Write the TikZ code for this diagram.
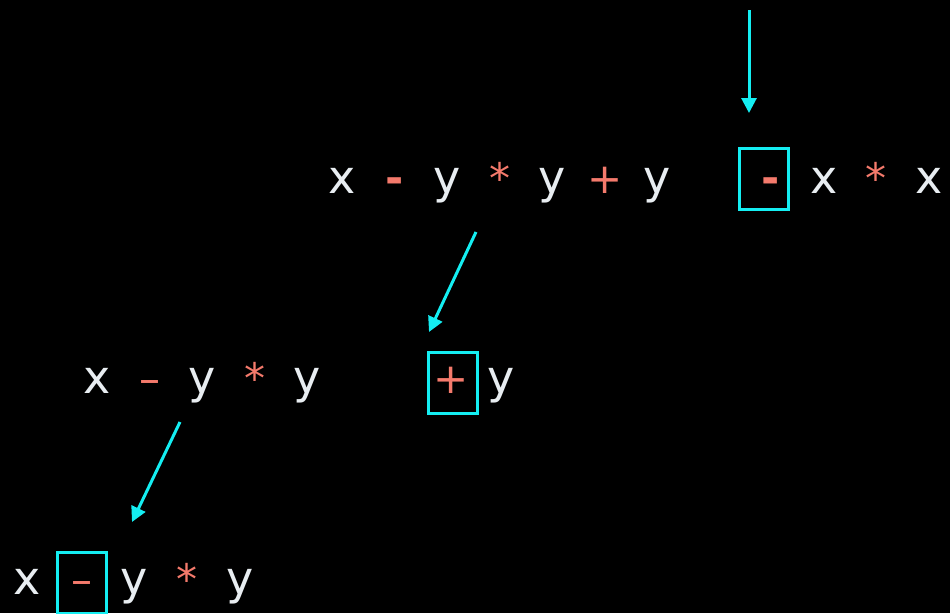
\documentclass[tikz,border=0pt]{standalone}
\usepackage{fontspec}
\setmainfont{DejaVu Sans}
\usetikzlibrary{arrows.meta}
\definecolor{txtw}{HTML}{E8EDF1}
\definecolor{opred}{HTML}{F47A6C}
\definecolor{cyanc}{HTML}{14EEF2}
\tikzset{
  ch/.style={inner sep=0pt, anchor=base, text=txtw, font=\fontsize{46}{50}\selectfont},
  op/.style={inner sep=0pt, anchor=base, text=opred, font=\fontsize{42}{46}\selectfont},
  hy/.style={op, font=\fontsize{44}{48}\selectfont\bfseries},
  hbox/.style={draw=cyanc, line width=3pt},
  arr/.style={draw=cyanc, line width=3pt, -{Triangle[length=15pt,width=15pt]}}
}
\begin{document}
\begin{tikzpicture}[x=1pt,y=-1pt]
\fill[black] (0,0) rectangle (950,613);
\useasboundingbox (0,0) rectangle (950,613);
% top row
\node[ch] (t1) at (342,193) {x};
\node[hy] (t2) at (395,193) {-};
\node[ch] (t3) at (447,193) {y};
\node[op] (t4) at (500,193) {*};
\node[ch] (t5) at (552,193) {y};
\node[op] (t6) at (605,193) {+};
\node[ch] (t7) at (657,193) {y};
\draw[hbox] (739,148) rectangle (788,209);
\node[hy] (t8) at (771,193) {-};
\node[ch] (t9) at (824,193) {x};
\node[op] (t10) at (876,193) {*};
\node[ch] (t11) at (929,193) {x};
% middle row
\node[ch] (m1) at (97,393) {x};
\node[op] (m2) at (150,393) {–};
\node[ch] (m3) at (202,393) {y};
\node[op] (m4) at (255,393) {*};
\node[ch] (m5) at (307,393) {y};
\draw[hbox] (428,352) rectangle (477,413);
\node[op] (m6) at (451,393) {+};
\node[ch] (m7) at (501,393) {y};
% bottom row
\node[ch] (b1) at (27,594) {x};
\draw[hbox] (57,552) rectangle (106,613);
\node[op] (b2) at (82,594) {–};
\node[ch] (b3) at (134,594) {y};
\node[op] (b4) at (187,594) {*};
\node[ch] (b5) at (240,594) {y};
% arrows
\coordinate (a1s) at (749,10);
\coordinate (a1e) at (749,113);
\coordinate (a2s) at (476,232);
\coordinate (a2e) at (429,332);
\coordinate (a3s) at (180,422);
\coordinate (a3e) at (132,522);
\draw[arr] (a1s) -- (a1e);
\draw[arr] (a2s) -- (a2e);
\draw[arr] (a3s) -- (a3e);
\end{tikzpicture}
\end{document}
